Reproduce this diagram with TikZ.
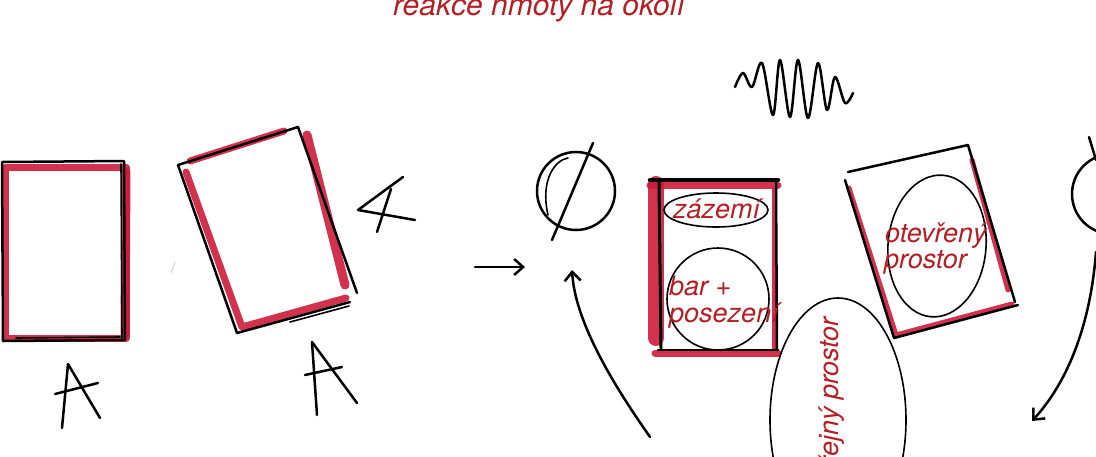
\documentclass[tikz,border=0pt]{standalone}
\usepackage{fontspec}
\newfontfamily\helv{TeX Gyre Heros}
\usepackage{tikz}
\usetikzlibrary{arrows.meta}
\definecolor{inkred}{RGB}{180,30,36}
\definecolor{markred}{RGB}{206,28,60}

\begin{document}
\begin{tikzpicture}[x=1pt,y=-1pt,line cap=round,line join=round]
\tikzstyle{pen}=[draw=black,line width=2.5pt]
\tikzstyle{thinpen}=[draw=black,line width=1.6pt]
\tikzstyle{redmark}=[draw=markred,line width=7pt,opacity=0.9]
\tikzstyle{lbl}=[text=inkred,font=\helv\itshape\fontsize{27}{27}\selectfont,inner sep=0pt]
\tikzstyle{barb}=[pen,-{Straight Barb[length=9pt,width=16pt]}]
\useasboundingbox (0,0) rectangle (1096,456);
\clip (0,0) rectangle (1096,456);

% title, cut by the top edge
\node[lbl,font=\helv\itshape\fontsize{30}{30}\selectfont,anchor=base] (title) at (539,15) {reakce hmoty na okolí};

% block A, upright
\draw[redmark] (5,167) rectangle (126,338);
\draw[redmark,line width=9pt] (126,172) -- (125,336);
\draw[pen] (2,162) -- (124,161) -- (125,340) -- (3,341) -- cycle;
\draw[thinpen] (121,164) -- (122,338);
\draw[thinpen] (16,338) -- (120,337);
\draw[pen] (68,364) -- (62,428);
\draw[pen] (68,364) -- (100,418);
\draw[pen] (55,394) -- (98,383);

% block A, turned
\draw[redmark] (186,172) -- (242,327) -- (346,298);
\draw[redmark] (190,161) -- (284,131);
\draw[redmark,line width=9pt] (307,135) -- (345,285);
\draw[pen] (178,165) -- (298,127);
\draw[pen] (178,165) -- (237,333) -- (350,302);
\draw[pen] (298,127) -- (357,293);
\draw[thinpen] (290,322) -- (349,306);
\draw[pen] (312,342) -- (317,415);
\draw[pen] (312,342) -- (357,403);
\draw[pen] (305,375) -- (342,367);
% angle sign
\draw[pen] (403,177) -- (358,210) -- (415,220);
\draw[pen] (377,232) -- (391,189);
\draw[gray!40,line width=0.8pt] (171,273) -- (175,262);

% arrows into the spot
\coordinate (inL) at (475,267);
\coordinate (inT) at (525,267);
\draw[barb] (inL) -- (inT);
\node[circle,pen,minimum size=78pt,inner sep=0pt] (ring) at (576,191) {};
\draw[thinpen] (548,215) .. controls (540,180) and (555,160) .. (568,158);
\draw[pen] (593,143) -- (552,240);
\coordinate (upS) at (650,437);
\coordinate (upT) at (572,270);
\draw[barb] (upS) .. controls (610,380) and (575,320) .. (upT);

% noise
\draw[pen] plot[smooth,tension=0.55] coordinates {(735,87) (743,73) (752,87) (762,63) (773,115) (780,60) (790,117) (798,60) (808,118) (818,63) (827,110) (835,77) (845,103) (853,93)};

% bar block
\draw[redmark,line width=16pt] (656,184) -- (656,338);
\draw[redmark] (650,185) -- (778,185);
\draw[redmark] (655,353) -- (778,353);
\draw[redmark,line width=5pt] (774,190) -- (774,348);
\draw[pen,line width=4.5pt] (650,180) -- (778,180);
\draw[pen,line width=3pt] (659,182) -- (661,348);
\draw[pen] (776,182) -- (777,350);
\draw[pen] (658,350) -- (778,350);
\draw[thinpen] (716,210) ellipse [x radius=52,y radius=17];
\draw[thinpen] (718,299) ellipse [x radius=51,y radius=51];
\node[lbl,anchor=base west] (zazemi) at (673,218) {zázemí};
\node[lbl,anchor=base west] (bar) at (669,295) {bar +};
\node[lbl,anchor=base west] (posez) at (669,322) {posezení};

% open space block
\draw[redmark,line width=5pt] (849,188) -- (896,335) -- (1012,304);
\draw[redmark,line width=5pt] (972,160) -- (1008,290);
\draw[pen] (848,172) -- (968,145);
\draw[pen] (845,180) -- (894,338) -- (1018,305);
\draw[pen] (968,145) -- (1015,302);
\draw[thinpen] (937,246) ellipse [x radius=49,y radius=71,rotate=-5];
\node[lbl,anchor=base west] (otev) at (885,242) {otevřený};
\node[lbl,anchor=base west] (prost) at (884,268) {prostor};

% public space
\draw[thinpen] (838,420) ellipse [x radius=68,y radius=122];
\node[lbl,rotate=90,anchor=base east] (verej) at (838,317) {veřejný prostor};

% spot at the right edge
\node[circle,pen,minimum size=80pt,inner sep=0pt] (ring2) at (1112,194) {};
\draw[pen] (1089,137) -- (1096,160);
\coordinate (dnS) at (1096,252);
\coordinate (dnT) at (1032,421);
\draw[barb] (dnS) .. controls (1090,330) and (1065,385) .. (dnT);
\end{tikzpicture}
\end{document}
